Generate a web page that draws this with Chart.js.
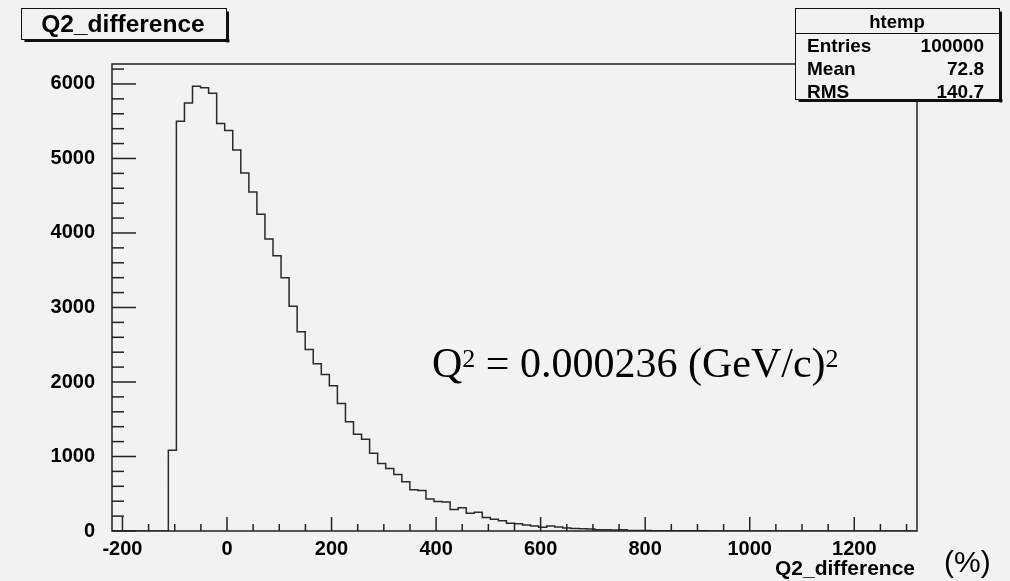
<!DOCTYPE html>
<html>
<head>
<meta charset="utf-8">
<title>Q2_difference</title>
<script src="https://cdn.jsdelivr.net/npm/chart.js@4.4.1/dist/chart.umd.min.js"></script>
<style>
  html, body { margin: 0; padding: 0; background: #f2f2f2; }
</style>
</head>
<body>
<canvas id="grafico" width="1010" height="581"></canvas>
<script>
// histograma: 100 bins de -220 a 1320
const xMin = -220;
const xMax = 1320;
const binWidth = 15.4;
const contagens = [
  0, 0, 0, 0, 0, 0, 0, 1085, 5500, 5745,
  5970, 5950, 5875, 5470, 5375, 5115, 4805, 4550, 4250, 3920,
  3695, 3400, 3015, 2675, 2435, 2245, 2100, 1950, 1710, 1465,
  1300, 1230, 1045, 905, 840, 760, 660, 555, 545, 430,
  395, 390, 290, 313, 238, 251, 180, 157, 138, 103,
  98, 81, 67, 50, 67, 54, 40, 32, 30, 28,
  18, 17, 15, 16, 8, 6, 6, 5, 4, 3,
  3, 2, 3, 2, 1, 1, 0, 0, 0, 0,
  0, 0, 0, 0, 0, 0, 0, 0, 0, 0,
  0, 0, 0, 0, 0, 0, 0, 0, 0, 0
];
const yMax = 6268;
const xTicks = [-200, 0, 200, 400, 600, 800, 1000, 1200];
const yTicks = [0, 1000, 2000, 3000, 4000, 5000, 6000];
const xStepMaior = 200, xStepMenor = 50;
const yStepMaior = 1000, yStepMenor = 200;

const tituloHist = "Q2_difference";
const tituloX = "Q2_difference";
const estatNomes = ["Entries", "Mean", "RMS"];
const estatValores = ["100000", "72.8", "140.7"];

const pontos = contagens.map((c, i) => ({ x: xMin + i * binWidth, y: c }));
pontos.push({ x: xMax, y: 0 });

const fonteSans = "'Liberation Sans', Arial, sans-serif";
const fonteSerif = "'Liberation Serif', 'Times New Roman', serif";

// marcas dos eixos no estilo ROOT + moldura
const marcasEixos = {
  id: "marcasEixos",
  afterDraw(chart) {
    const { ctx, chartArea: a, scales: { x, y } } = chart;
    ctx.save();
    ctx.strokeStyle = "#222";
    ctx.lineWidth = 1.5;
    for (let v = 0; v <= yMax; v += yStepMenor) {
      const py = y.getPixelForValue(v);
      const len = v % yStepMaior === 0 ? 24 : 12;
      ctx.beginPath(); ctx.moveTo(a.left, py); ctx.lineTo(a.left + len, py); ctx.stroke();
    }
    for (let v = -200; v <= xMax; v += xStepMenor) {
      const px = x.getPixelForValue(v);
      const len = v % xStepMaior === 0 ? 14 : 7;
      ctx.beginPath(); ctx.moveTo(px, a.bottom); ctx.lineTo(px, a.bottom - len); ctx.stroke();
    }
    ctx.strokeRect(a.left, a.top, a.right - a.left, a.bottom - a.top);
    ctx.restore();
  }
};

function caixa(ctx, x, y, w, h) {
  ctx.fillStyle = "#f2f2f2";
  ctx.fillRect(x, y, w, h);
  ctx.fillStyle = "#111";
  ctx.fillRect(x + 3, y + h, w, 2.5);
  ctx.fillRect(x + w, y + 3, 2.5, h);
  ctx.strokeStyle = "#111";
  ctx.lineWidth = 1;
  ctx.strokeRect(x, y, w, h);
}

// caixa de titulo, caixa de estatisticas e textos
const textosRoot = {
  id: "textosRoot",
  afterDraw(chart) {
    const ctx = chart.ctx;
    ctx.save();
    caixa(ctx, 21.5, 8.5, 205, 31);
    ctx.fillStyle = "#000";
    ctx.font = "bold 24.5px " + fonteSans;
    ctx.textAlign = "center";
    ctx.textBaseline = "alphabetic";
    ctx.fillText(tituloHist, 123, 32);

    caixa(ctx, 795.5, 8.5, 204, 91);
    ctx.beginPath(); ctx.moveTo(795.5, 33.5); ctx.lineTo(999.5, 33.5); ctx.stroke();
    ctx.fillStyle = "#000";
    ctx.font = "bold 18.5px " + fonteSans;
    ctx.fillText("htemp", 897, 28);
    ctx.font = "bold 19px " + fonteSans;
    estatNomes.forEach((n, i) => {
      const by = 52 + i * 23.2;
      ctx.textAlign = "left";
      ctx.fillText(n, 807, by);
      ctx.textAlign = "right";
      ctx.fillText(estatValores[i], 984, by);
    });

    // titulo do eixo x
    ctx.textAlign = "right";
    ctx.font = "bold 21px " + fonteSans;
    ctx.fillText(tituloX, 915, 575);
    ctx.textAlign = "left";
    ctx.font = "30px " + fonteSans;
    ctx.fillText("(%)", 944, 572);

    // anotacao Q^2
    let px = 432;
    const base = 377;
    ctx.font = "42px " + fonteSerif;
    ctx.fillText("Q", px, base);
    px += ctx.measureText("Q").width;
    ctx.font = "26px " + fonteSerif;
    ctx.fillText("2", px, base - 10);
    px += ctx.measureText("2").width;
    ctx.font = "42px " + fonteSerif;
    const meio = " = 0.000236 (GeV/c)";
    ctx.fillText(meio, px, base);
    px += ctx.measureText(meio).width;
    ctx.font = "26px " + fonteSerif;
    ctx.fillText("2", px, base - 10);
    ctx.restore();
  }
};

const ctx = document.getElementById("grafico").getContext("2d");
new Chart(ctx, {
  type: "line",
  data: {
    datasets: [{
      data: pontos,
      stepped: "before",
      borderColor: "#2a2a2a",
      borderWidth: 1.5,
      pointRadius: 0,
      fill: false
    }]
  },
  options: {
    responsive: false,
    animation: false,
    layout: { padding: { top: 64, right: 93, bottom: 0, left: 0 } },
    plugins: { legend: { display: false }, tooltip: { enabled: false } },
    scales: {
      x: {
        type: "linear",
        min: xMin,
        max: xMax,
        afterFit: (s) => { s.height = 50; },
        afterBuildTicks: (s) => { s.ticks = xTicks.map((v) => ({ value: v })); },
        grid: { display: false },
        border: { display: false },
        ticks: {
          autoSkip: false,
          maxRotation: 0,
          padding: -2,
          color: "#000",
          callback: (v) => String(v),
          font: { family: fonteSans, weight: "bold", size: 20 }
        }
      },
      y: {
        min: 0,
        max: yMax,
        afterFit: (s) => { s.width = 112; },
        afterBuildTicks: (s) => { s.ticks = yTicks.map((v) => ({ value: v })); },
        grid: { display: false },
        border: { display: false },
        ticks: {
          autoSkip: false,
          padding: 9,
          color: "#000",
          callback: (v) => String(v),
          font: { family: fonteSans, weight: "bold", size: 20 }
        }
      }
    }
  },
  plugins: [marcasEixos, textosRoot]
});
</script>
</body>
</html>
